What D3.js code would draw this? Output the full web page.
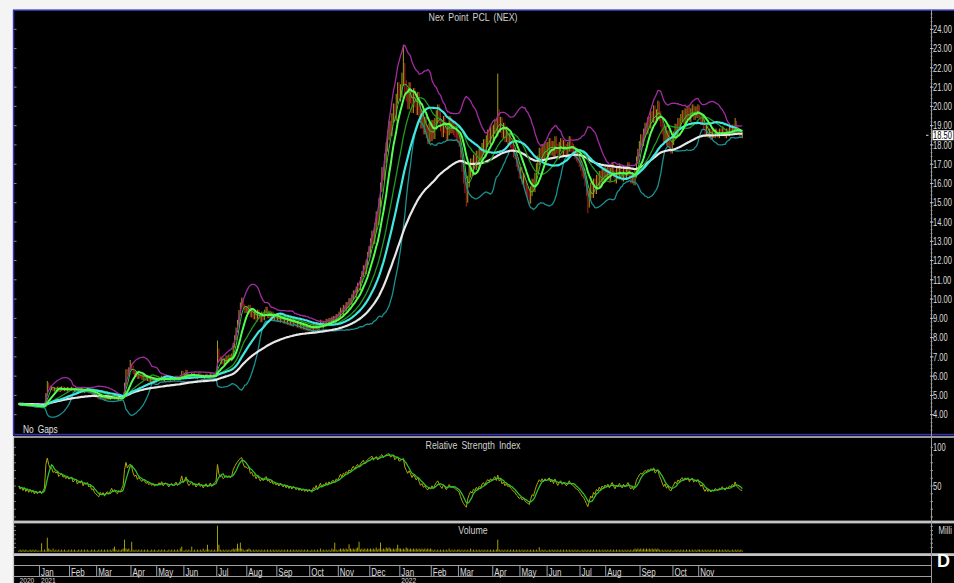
<!DOCTYPE html>
<html>
<head>
<meta charset="utf-8">
<script src="https://cdn.jsdelivr.net/npm/d3@7"></script>
<style>
body { margin: 0; background: #f4f4f4; overflow: hidden; }
svg { display: block; }
text { font-family: "Liberation Sans", Arial, sans-serif; }
</style>
</head>
<body>
<script>
// months shown on the chart (Dec 2020 and Dec 2022 are partial)
const monthKeys = ["2020-12","2021-01","2021-02","2021-03","2021-04","2021-05","2021-06","2021-07","2021-08","2021-09","2021-10","2021-11","2021-12",
                   "2022-01","2022-02","2022-03","2022-04","2022-05","2022-06","2022-07","2022-08","2022-09","2022-10","2022-11","2022-12"];
const monthLabels = ["","Jan","Feb","Mar","Apr","May","Jun","Jul","Aug","Sep","Oct","Nov","Dec",
                     "Jan","Feb","Mar","Apr","May","Jun","Jul","Aug","Sep","Oct","Nov",""];
const yearLabels = [["2020", 0], ["2021", 1], ["2022", 13]]; // [label, month position]

// daily closes, one array per month
const closeDec2020 = [4.56,4.52,4.54,4.50,4.53,4.48,4.51,4.46,4.49,4.45,4.47,4.42,4.45,4.41,4.43];
const close2021 = [
  [4.44,4.40,4.43,4.46,5.05,5.60,5.45,5.35,5.40,5.28,5.35,5.30,5.38,5.25,5.32,5.40,5.30,5.35,5.28,5.36,5.30],
  [5.32,5.38,5.25,5.30,5.35,5.22,5.30,5.26,5.34,5.20,5.28,5.24,5.30,5.18,5.22,5.10,5.12,5.00,4.95],
  [4.90,4.85,4.95,4.88,4.92,4.80,4.86,4.90,4.82,4.88,4.95,4.85,4.90,4.82,4.78,4.85,4.80,4.88,4.95,5.60,6.30,6.10,6.40,6.55],
  [6.45,6.20,6.05,6.15,5.95,6.10,6.00,5.90,6.05,5.95,5.85,5.92,5.80,5.88,5.78,5.85,5.75,5.82],
  [5.80,5.90,5.85,5.95,5.80,5.88,5.92,5.85,5.78,5.86,5.90,5.82,5.88,5.95,5.85,5.90,5.98,6.20,6.00],
  [6.10,6.25,6.05,5.95,6.02,6.10,5.98,6.05,5.92,6.00,6.08,5.95,6.02,5.90,5.98,6.05,5.94,6.00,6.08,5.96,6.04,6.10,6.15],
  [7.30,6.90,6.75,6.85,6.70,6.80,6.95,6.85,7.00,6.90,7.05,7.60,8.00,8.40,8.80,9.30,9.70,9.95,9.60,9.40,9.50],
  [9.40,9.55,9.20,9.35,9.10,9.25,9.00,9.30,9.15,8.95,9.20,9.05,9.30,9.45,9.15,9.25,9.05,9.20,9.00,9.10,8.95],
  [9.05,8.90,9.10,8.95,8.85,9.00,8.80,8.95,8.75,8.90,8.70,8.85,8.80,8.65,8.75,8.60,8.70,8.55,8.65,8.50,8.60,8.45,8.55],
  [8.50,8.40,8.60,8.55,8.70,8.50,8.65,8.80,8.60,8.75,8.70,8.85,8.75,8.90,8.80,8.95,9.00,8.90,9.10,9.05],
  [9.20,9.40,9.30,9.55,9.50,9.70,9.65,9.90,9.85,10.10,10.30,10.20,10.50,10.70,10.60,11.00,11.30,11.60,11.45,11.90,12.30,12.60],
  [12.90,13.30,13.10,13.70,14.30,14.10,15.00,15.80,16.60,16.40,17.30,17.90,18.50,19.00,18.70,19.40,19.90,19.50,20.40,21.00,20.60]
];
const close2022 = [
  [20.80,21.40,21.90,21.00,20.60,20.20,20.90,20.50,20.00,20.60,20.30,19.90,20.40,19.80,19.20,19.50,18.90,19.10,18.70,18.40,18.80,18.50],
  [19.00,18.60,19.10,19.50,19.80,19.40,19.00,18.70,19.20,18.90,18.50,18.80,19.20,18.90,18.90,18.80,18.70,18.50,18.40],
  [18.20,17.60,16.90,16.30,15.80,15.30,16.10,16.60,17.00,16.70,17.20,17.00,17.40,17.10,17.50,17.30,17.80,18.00,17.70,18.20,18.50,18.30,18.70,18.50],
  [18.80,19.10,18.70,19.60,18.90,19.20,18.60,18.90,18.40,18.70,18.30,18.40,18.10,17.90,17.60,17.50,17.10,16.90,16.50],
  [16.60,16.20,16.30,15.90,15.60,15.50,15.20,15.60,16.00,15.80,16.30,16.80,17.20,17.60,17.40,17.80,17.50,17.90,17.70],
  [17.90,18.10,17.70,17.95,17.60,18.20,17.80,17.50,17.90,18.10,17.70,18.00,17.80,17.60,17.90,18.20,17.90,17.80,17.70,17.50,17.40,17.30,17.10],
  [16.90,16.60,16.50,16.10,15.60,15.00,15.40,15.80,15.50,16.00,15.70,16.20,16.00,16.40,16.10,16.50,16.30,16.60],
  [16.40,16.70,16.30,16.60,16.90,16.50,16.20,16.60,16.40,16.80,16.50,16.30,16.70,16.40,16.60,16.90,16.50,16.20,16.40,16.10,16.50,17.20,17.60,18.00],
  [18.30,18.20,18.60,18.90,18.80,19.20,19.10,19.50,19.40,19.80,19.40,19.60,20.00,19.50,19.20,18.80,18.40,18.70,18.20,18.50,18.00,17.80,18.20],
  [18.50,18.90,18.70,19.20,19.00,19.40,19.60,19.30,19.70,19.50,19.80,19.40,19.70,19.90,19.50,19.80,19.60,19.90],
  [19.50,19.20,19.40,18.90,18.60,18.90,18.50,18.70,18.40,18.60,18.50,18.70,18.60,18.50,18.70,18.60,18.80,18.60,18.50,18.70,18.60,18.80],
  [18.70,18.90,18.80,19.10,18.80,18.70,18.60,18.50,18.50]
];
// typical bar range per month (price units)
const barRange = [0.10,0.15,0.15,0.12,0.20,0.15,0.15,0.25,0.30,0.25,0.25,0.30,0.50,
                  0.70,0.60,0.60,0.50,0.50,0.50,0.50,0.40,0.50,0.40,0.30,0.30];
// notable bar extremes [month, day in month, high, low]
const wicks = [
  ["2021-01", 5, 5.75, null], ["2021-03", 23, 6.84, null], ["2021-07", 0, 7.85, 6.40],
  ["2022-01", 2, 23.2, null], ["2022-03", 5, null, 14.8], ["2022-04", 3, 21.7, null],
  ["2022-05", 6, null, 14.9], ["2022-07", 5, null, 14.45], ["2022-09", 12, 20.3, null],
  ["2022-12", 3, 19.4, null]
];

// daily volume, one digit per day (x 0.5 million)
const volDec2020 = "121212112121211";
const vol2021 = ["131212321312121212112","1212112121212112121","121212121213121212323231","321212121212112121",
  "1212121121212121321","12121312121213121212121","232121212123234343212","232121212121212121212",
  "12121212121212121212121","12121213121212132321","2323232432323432323232","323242342324343232343"];
const vol2022 = ["3232432323232323232323","2121212121213121212","212121213121212121212121","2123212121212121212",
  "1212121212121212121","12121212121212121212121","121212121212121212","121212121212121212123232",
  "32323232323232121212121","121212121212121212","2121212121212121212121","121212121"];
// volume spikes [month, day in month, millions]
const volSpikes = [
  ["2021-01",1,4.0],["2021-01",5,6.6],["2021-03",12,2.4],["2021-03",19,5.7],["2021-04",0,4.7],
  ["2021-05",17,2.4],["2021-06",5,2.4],["2021-06",16,3.3],["2021-07",0,12.3],["2021-07",1,3.3],
  ["2021-07",14,3.8],["2021-07",16,4.3],["2021-10",17,4.3],["2021-11",7,3.5],["2021-11",14,4.7],
  ["2021-12",7,4.3],["2021-12",19,3.3],["2022-04",3,5.7],["2022-05",13,2.1]
];

const priceTicks = d3.range(4, 25);
const rsiTicks = [50, 100];
const lastPrice = 18.50;

// ---------- build daily rows ----------
const closeByMonth = [closeDec2020, ...close2021, ...close2022];
const volByMonth = [volDec2020, ...vol2021, ...vol2022];
const days = [];
const monthStart = [];
closeByMonth.forEach((arr, mi) => {
  monthStart.push(days.length);
  arr.forEach((c, k) => {
    const ch = volByMonth[mi][k];
    days.push({ mi, k, close: c, vol: ch ? +ch * 0.5 : 0.5 });
  });
});
volSpikes.forEach(([m, k, v]) => { days[monthStart[monthKeys.indexOf(m)] + k].vol = v; });
const closes = days.map(d => d.close);
days.forEach((d, i) => {
  const o = i ? closes[i - 1] : d.close;
  const r = barRange[d.mi] / 2;
  d.open = o;
  d.high = Math.max(o, d.close) + r;
  d.low = Math.min(o, d.close) - r;
});
wicks.forEach(([m, k, hi, lo]) => {
  const d = days[monthStart[monthKeys.indexOf(m)] + k];
  if (hi != null) d.high = hi;
  if (lo != null) d.low = lo;
});

// ---------- indicators ----------
function sma(v, p) {
  return v.map((_, i) => d3.mean(v.slice(Math.max(0, i - p + 1), i + 1)));
}
function ema(v, p) {
  const a = 2 / (p + 1);
  let e = v[0];
  return v.map(x => (e = e + a * (x - e)));
}
function boll(v, p, k) {
  return v.map((_, i) => {
    const w = v.slice(Math.max(0, i - p + 1), i + 1);
    const m = d3.mean(w);
    const s = Math.sqrt(d3.mean(w, x => (x - m) ** 2));
    return [m + k * s, m - k * s];
  });
}
function rsi(v, p) {
  const ch = d3.range(1, v.length).map(i => v[i] - v[i - 1]);
  // start from a neutral reading
  let g = d3.mean(ch.slice(0, p), Math.abs) / 2, l = g;
  const out = [50];
  ch.forEach(d => {
    g = (g * (p - 1) + Math.max(d, 0)) / p;
    l = (l * (p - 1) + Math.max(-d, 0)) / p;
    out.push(100 - 100 / (1 + g / l));
  });
  return out;
}
const ma5 = sma(closes, 5), ma10 = sma(closes, 10), ma20 = sma(closes, 20), ma30 = sma(closes, 30);
const ema75 = ema(closes, 75);
const bb = boll(closes, 20, 2);
const rsiVals = rsi(closes, 14);
const rsiSig = sma(rsiVals, 5);

// ---------- layout ----------
const W = 954, H = 583;
const axisX = 931.5;
const price = { top: 11, bottom: 434 };
const rsiP = { top: 438, bottom: 520.5 };
const volP = { top: 523.5, bottom: 553 };

const x = d3.scaleBand().domain(d3.range(days.length)).range([18, 18 + days.length * 1.43]);
const cx = i => x(i) + x.bandwidth() / 2;
const y = d3.scaleLinear().domain([4, 24]).range([414.7, 29.3]);
const yR = d3.scaleLinear().domain([0, 100]).range([524.7, 447.3]);
const yV = d3.scaleLinear().domain([0, 13.5]).range([551.7, 523.2]);

const svg = d3.select("body").append("svg").attr("width", W).attr("height", H);
svg.append("rect").attr("width", W).attr("height", H).attr("fill", "#f4f4f4");
svg.append("rect").attr("x", 13).attr("y", 10).attr("width", W - 13).attr("height", H - 10).attr("fill", "#000");

// narrow the glyphs like the bitmap font of the original
function squeeze(sel, f) {
  sel.each(function () {
    const t = d3.select(this);
    const tx = +t.attr("x"), ty = +t.attr("y");
    t.attr("x", null).attr("y", null).attr("transform", `translate(${tx},${ty}) scale(${f},1)`);
  });
  return sel;
}

const defs = svg.append("defs");
function clip(id, p) {
  defs.append("clipPath").attr("id", id).append("rect")
    .attr("x", 14).attr("y", p.top).attr("width", axisX - 14).attr("height", p.bottom - p.top);
  return svg.append("g").attr("clip-path", `url(#${id})`);
}

// ---------- price panel ----------
const gP = clip("cp", price);
gP.selectAll("line.bar").data(days).join("line")
  .attr("class", "bar")
  .attr("x1", (d, i) => cx(i)).attr("x2", (d, i) => cx(i))
  .attr("y1", d => y(d.high)).attr("y2", d => y(d.low))
  .attr("stroke", d => d.close >= d.open ? "#a49c14" : "#b01e1e")
  .attr("stroke-width", 1);

function drawLine(g, vals, sc, color, w) {
  g.append("path")
    .datum(vals)
    .attr("fill", "none").attr("stroke", color).attr("stroke-width", w)
    .attr("stroke-linejoin", "round")
    .attr("d", d3.line().defined(v => !isNaN(v)).x((v, i) => cx(i)).y(v => sc(v)));
}
drawLine(gP, bb.map(b => b[0]), y, "#a02ca0", 1.3);
drawLine(gP, bb.map(b => b[1]), y, "#1a9090", 1.3);
drawLine(gP, ema75, y, "#e8e8e8", 2.2);
drawLine(gP, ma20, y, "#1f9a1f", 1.3);
drawLine(gP, ma30, y, "#40e8e0", 2.2);
drawLine(gP, ma5, y, "#3cc83c", 1);
drawLine(gP, ma10, y, "#50ff50", 2);

// ---------- RSI panel ----------
const gR = clip("cr", rsiP);
drawLine(gR, rsiVals, yR, "#b0a800", 1);
drawLine(gR, rsiSig, yR, "#30c030", 1.3);

// ---------- volume panel ----------
const gV = clip("cv", volP);
gV.selectAll("line").data(days).join("line")
  .attr("x1", (d, i) => cx(i)).attr("x2", (d, i) => cx(i))
  .attr("y1", yV(0)).attr("y2", d => yV(d.vol))
  .attr("stroke", "#a8a000").attr("stroke-width", 1);

// ---------- frames ----------
svg.append("rect").attr("x", 13).attr("y", 9.4).attr("width", W - 13).attr("height", 1.6).attr("fill", "#3434b0");
svg.append("rect").attr("x", 13).attr("y", 433.8).attr("width", W - 13).attr("height", 1.6).attr("fill", "#3434b0");
svg.append("rect").attr("x", 12.8).attr("y", 10).attr("width", 1.5).attr("height", 425).attr("fill", "#3434b0");
svg.append("rect").attr("x", 12.8).attr("y", 436).attr("width", 1.3).attr("height", H - 436).attr("fill", "#c8c8c8");
svg.append("rect").attr("x", 13).attr("y", 436.3).attr("width", W - 13).attr("height", 1.4).attr("fill", "#d8d8d8");
svg.append("rect").attr("x", 13).attr("y", 520.6).attr("width", W - 13).attr("height", 2.8).attr("fill", "#c4c4c4");
svg.append("rect").attr("x", 13).attr("y", 553.2).attr("width", W - 13).attr("height", 2.8).attr("fill", "#c4c4c4");

// right axis line
svg.append("line").attr("x1", axisX).attr("x2", axisX).attr("y1", 10).attr("y2", H)
  .attr("stroke", "#9a9a9a").attr("stroke-width", 1);

const txt = "#dcdcdc";
// price axis
svg.append("g").selectAll("line").data(d3.range(3.2, 24.9, 0.2)).join("line")
  .attr("x1", axisX - 1).attr("x2", axisX + 1).attr("y1", v => y(v)).attr("y2", v => y(v))
  .attr("stroke", "#9a9a9a").attr("stroke-width", 0.8);
svg.append("g").selectAll("line").data(priceTicks).join("line")
  .attr("x1", axisX - 1.5).attr("x2", axisX + 2).attr("y1", v => y(v)).attr("y2", v => y(v))
  .attr("stroke", "#c0c0c0");
svg.append("g").selectAll("line").data(priceTicks).join("line")
  .attr("x1", 14).attr("x2", 16.5).attr("y1", v => y(v)).attr("y2", v => y(v))
  .attr("stroke", "#8a8a8a");
squeeze(svg.append("g").selectAll("text").data(priceTicks).join("text")
  .attr("x", 933).attr("y", v => y(v) + 3.7)
  .attr("fill", txt).attr("font-size", 10.5).text(v => v.toFixed(2)), 0.72);
// last price box
svg.append("rect").attr("x", 932.5).attr("y", y(lastPrice) - 5).attr("width", 21).attr("height", 10).attr("fill", "#fff");
squeeze(svg.append("text").attr("x", 933).attr("y", y(lastPrice) + 3.7).attr("fill", "#000")
  .attr("font-size", 10.5).text(lastPrice.toFixed(2)), 0.72);
svg.append("line").attr("x1", 926).attr("x2", 928.5).attr("y1", y(lastPrice)).attr("y2", y(lastPrice)).attr("stroke", "#ddd");

// RSI axis
svg.append("g").selectAll("line").data(d3.range(10, 110, 10)).join("line")
  .attr("x1", axisX - 1).attr("x2", axisX + 1.5).attr("y1", v => yR(v)).attr("y2", v => yR(v))
  .attr("stroke", "#9a9a9a");
svg.append("g").selectAll("line").data(d3.range(10, 110, 10)).join("line")
  .attr("x1", 14).attr("x2", 16).attr("y1", v => yR(v)).attr("y2", v => yR(v))
  .attr("stroke", "#7a7a7a");
squeeze(svg.append("g").selectAll("text").data(rsiTicks).join("text")
  .attr("x", 933).attr("y", v => yR(v) + 3.7)
  .attr("fill", txt).attr("font-size", 10.5).text(v => v), 0.72);
// volume axis
svg.append("g").selectAll("line").data(d3.range(2, 13, 2)).join("line")
  .attr("x1", 14).attr("x2", 16).attr("y1", v => yV(v)).attr("y2", v => yV(v))
  .attr("stroke", "#7a7a7a");
svg.append("g").selectAll("line").data(d3.range(2, 13, 2)).join("line")
  .attr("x1", axisX - 1).attr("x2", axisX + 1.5).attr("y1", v => yV(v)).attr("y2", v => yV(v))
  .attr("stroke", "#9a9a9a");
squeeze(svg.append("text").attr("x", 938.5).attr("y", 534).attr("fill", txt).attr("font-size", 10.5).text("Milli"), 0.74);

// titles
const title = (t, yy) => squeeze(svg.append("text").attr("x", 473).attr("y", yy).attr("text-anchor", "middle")
  .attr("fill", "#cfcfcf").attr("font-size", 10.5).attr("word-spacing", 2).text(t), 0.84);
title("Nex Point PCL (NEX)", 20.5);
title("Relative Strength Index", 448.5);
title("Volume", 533.8);
squeeze(svg.append("text").attr("x", 23).attr("y", 433.3).attr("fill", "#e0e0e0").attr("font-size", 10.5)
  .attr("word-spacing", 2).text("No Gaps"), 0.8);

// ---------- time axis ----------
const gT = svg.append("g");
[565.5, 576.5].forEach(yy => gT.append("line").attr("x1", 13.5).attr("x2", axisX).attr("y1", yy).attr("y2", yy)
  .attr("stroke", "#a0a0a0"));
const mTicks = monthStart.map((s, mi) => ({ x: x(s), label: monthLabels[mi] })).filter(d => d.label);
gT.selectAll("line.mt").data(mTicks).join("line").attr("class", "mt")
  .attr("x1", d => d.x).attr("x2", d => d.x).attr("y1", 565.5).attr("y2", 576.5)
  .attr("stroke", "#a0a0a0");
squeeze(gT.selectAll("text.ml").data(mTicks).join("text").attr("class", "ml")
  .attr("x", d => d.x + 1.5).attr("y", 575.6).attr("fill", txt).attr("font-size", 10.5).text(d => d.label), 0.76);
squeeze(gT.selectAll("text.yl").data(yearLabels).join("text").attr("class", "yl")
  .attr("x", d => d[1] === 0 ? 19.5 : x(monthStart[d[1]]) + 1.5).attr("y", 582.6)
  .attr("fill", txt).attr("font-size", 7).text(d => d[0]), 0.95);

svg.append("text").attr("x", 937).attr("y", 567).attr("fill", "#fff").attr("font-size", 18)
  .attr("font-weight", "bold").text("D");
</script>
</body>
</html>
